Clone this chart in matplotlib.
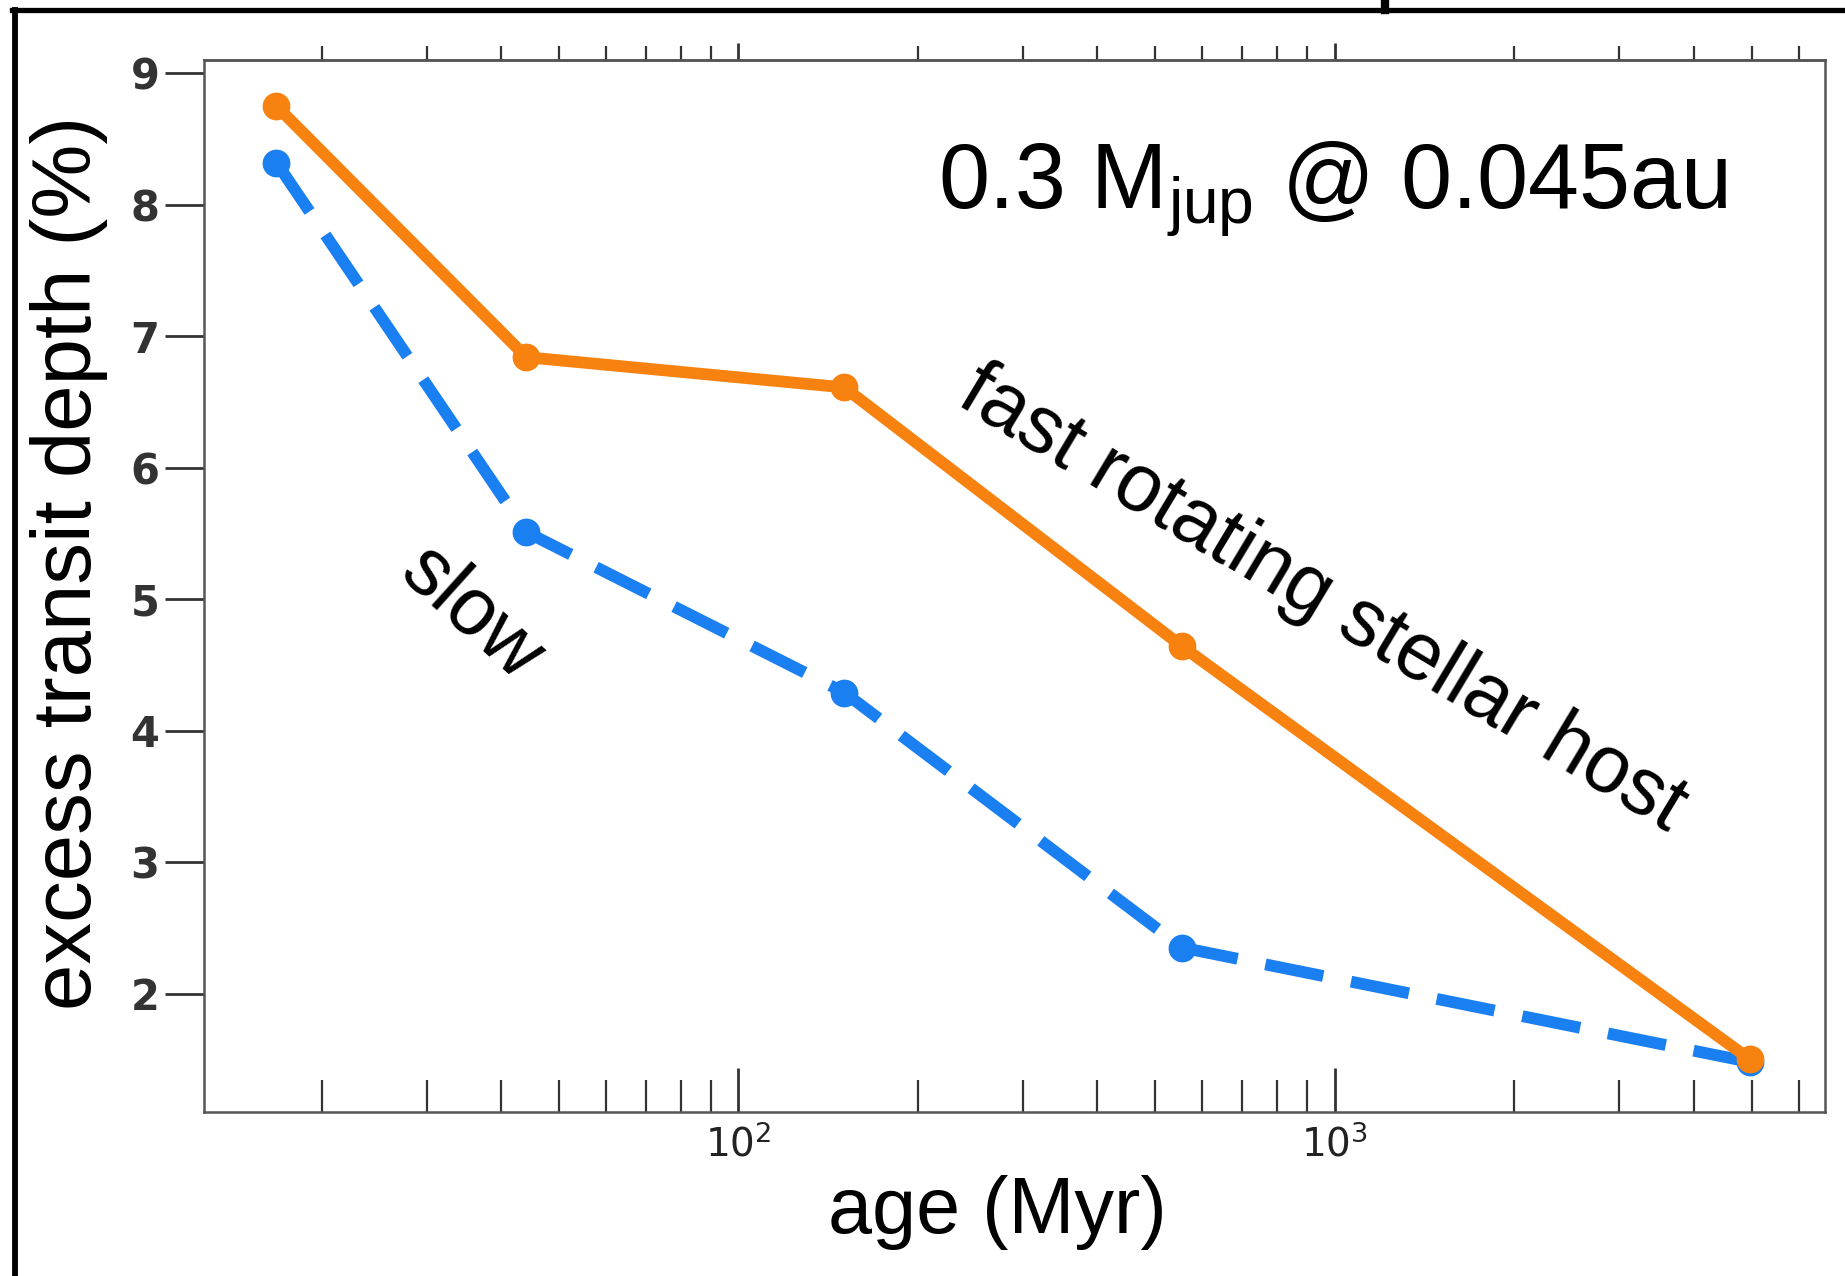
import matplotlib
matplotlib.use("Agg")
import matplotlib.pyplot as plt
from matplotlib.lines import Line2D

# ages (Myr) and excess transit depth (%)
age_fast = [16.8, 44.1, 150.5, 555, 4970]
depth_fast = [8.75, 6.84, 6.61, 4.64, 1.50]
age_slow = [16.8, 44.1, 150.5, 555, 4970]
depth_slow = [8.32, 5.51, 4.29, 2.35, 1.48]

y_ticks = [2, 3, 4, 5, 6, 7, 8, 9]

W, H = 1845, 1276

plt.rcParams['mathtext.fontset'] = 'custom'
plt.rcParams['mathtext.rm'] = 'Liberation Sans'


def fx(px):
    return px / W


def fy(py):
    return 1 - py / H


fig = plt.figure(figsize=(W / 100, H / 100), dpi=100)
ax = fig.add_axes([fx(204), fy(1112), fx(1825 - 204), (1112 - 60) / H])

ax.plot(age_slow, depth_slow, color='#1a7ff0', lw=8.5, ls=(0, (5.0, 2.4)),
        marker='o', ms=19, zorder=3)
ax.plot(age_fast, depth_fast, color='#f7820f', lw=8.5,
        marker='o', ms=19, zorder=4)

ax.set_xscale('log')
ax.set_xlim(12.7, 6640)
ax.set_ylim(1.1, 9.1)
ax.set_yticks(y_ticks)

for s in ax.spines.values():
    s.set_color('#555555')
    s.set_linewidth(1.8)

ax.tick_params(axis='x', which='major', direction='in', length=32, width=2,
               color='#333333', labelsize=28, pad=9, labelcolor='#222222')
ax.tick_params(axis='x', which='minor', direction='in', length=23, width=1.6,
               color='#333333')
ax.tick_params(axis='y', which='major', direction='out', length=28, width=2,
               color='#333333', labelsize=30, pad=4, labelcolor='#333333')
for lab in ax.get_xticklabels():
    lab.set_family('DejaVu Sans')
for lab in ax.get_yticklabels():
    lab.set_family('DejaVu Sans')
    lab.set_weight('bold')

# top axis: ticks pointing outwards
secax = ax.secondary_xaxis('top')
secax.tick_params(which='major', direction='out', length=12, width=2,
                  color='#333333', labeltop=False)
secax.tick_params(which='minor', direction='out', length=10, width=1.6,
                  color='#333333')
secax.spines['top'].set_color('#555555')
secax.spines['top'].set_linewidth(1.8)

fig.text(fx(69), fy(563), 'excess transit depth (%)', rotation=90,
         ha='center', va='center', fontsize=60, family='Liberation Sans')
fig.text(fx(997), fy(1212), 'age (Myr)', ha='center', va='center',
         fontsize=57, family='Liberation Sans')

fig.text(fx(938), fy(208), r'0.3 M$_{\mathrm{jup}}$ @ 0.045au', ha='left',
         va='baseline', fontsize=66, family='Liberation Sans')
fig.text(fx(471), fy(614), 'slow', rotation=-42, ha='center', va='center',
         rotation_mode='anchor', fontsize=58, family='Liberation Sans')
fig.text(fx(1322), fy(600), 'fast rotating stellar host', rotation=-31,
         ha='center', va='center', rotation_mode='anchor', fontsize=58,
         family='Liberation Sans')

# black frame round the picture
fig.add_artist(Line2D([fx(14.5), fx(14.5)], [fy(9.5), 0], color='black', lw=4.2))
fig.add_artist(Line2D([fx(12), 1], [fy(9.5), fy(9.5)], color='black', lw=3.8))
fig.add_artist(Line2D([fx(1385), fx(1385)], [1, fy(9.5)], color='black', lw=6))

fig.savefig('out.png', dpi=100)
